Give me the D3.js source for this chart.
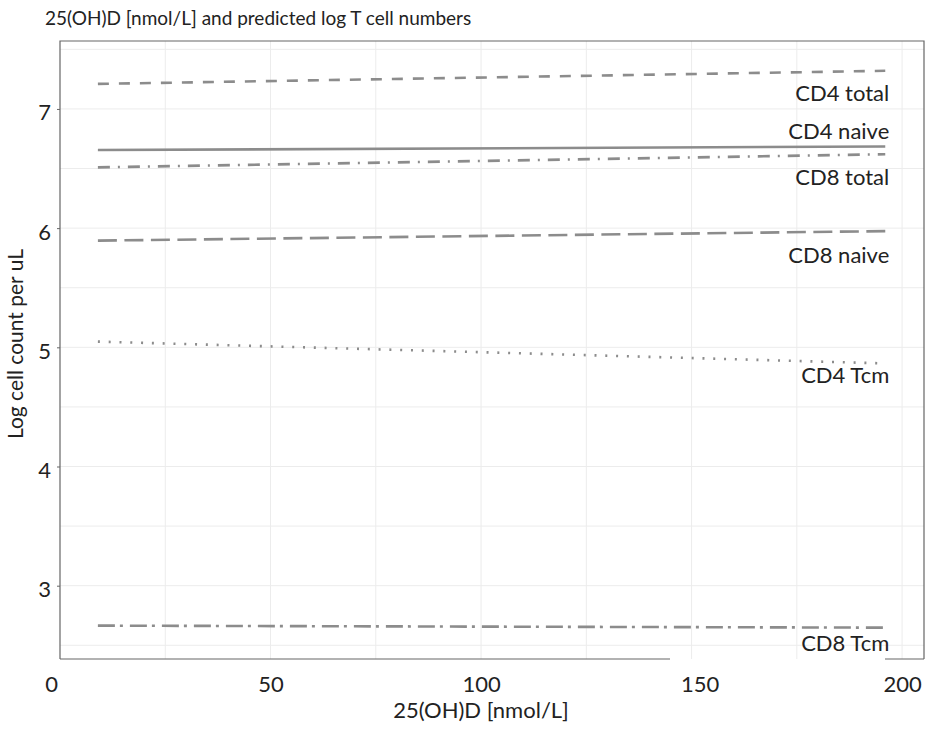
<!DOCTYPE html>
<html lang="en">
<head>
  <meta charset="UTF-8">
  <script src="https://d3js.org/d3.v7.min.js"></script>
  <title>25(OH)D and predicted log T cell numbers</title>
  <style>
    body {
      margin: 0;
      background: white;
      font-family: Lato, "Open Sans", sans-serif;
    }
    .grid line {
      stroke: #ececec;
      stroke-width: 1;
    }
    .series {
      fill: none;
      stroke: #8c8c8c;
      stroke-width: 2.6;
    }
    .lbl {
      font-size: 22px;
      fill: #222;
    }
  </style>
</head>
<body>
<script>
  // x values where each fitted line starts and ends
  const vitD = [9, 196];

  // predicted log cell counts at those two points
  const series = ["CD4 total", "CD4 naive", "CD8 total", "CD8 naive", "CD4 Tcm", "CD8 Tcm"];
  const startVals = [7.21, 6.655, 6.51, 5.895, 5.048, 2.665];
  const endVals = [7.32, 6.685, 6.62, 5.975, 4.865, 2.648];

  const xTicks = [0, 50, 100, 150, 200];
  const yTicks = [3, 4, 5, 6, 7];

  const width = 929;
  const height = 729;

  const svg = d3.select("body").append("svg")
    .attr("width", width)
    .attr("height", height);

  // Plot area
  const x = d3.scaleLinear().domain([0, 205.2]).range([60, 924]);
  const y = d3.scaleLinear().domain([2.385, 7.57]).range([659, 41]);

  // Grid lines (major + minor)
  const grid = svg.append("g").attr("class", "grid");
  grid.selectAll(".v")
    .data(d3.range(25, 201, 25))
    .enter().append("line")
    .attr("x1", d => x(d)).attr("x2", d => x(d))
    .attr("y1", y.range()[1]).attr("y2", y.range()[0]);
  grid.selectAll(".h")
    .data(d3.range(2.5, 7.51, 0.5))
    .enter().append("line")
    .attr("x1", x.range()[0]).attr("x2", x.range()[1])
    .attr("y1", d => y(d)).attr("y2", d => y(d));

  // Frame (bottom edge is broken in the original)
  const frame = svg.append("g")
    .attr("stroke", "#666")
    .attr("stroke-width", 1.2)
    .attr("fill", "none");
  frame.append("path")
    .attr("d", `M${x.range()[0]},${y.range()[0]}V${y.range()[1]}H${x.range()[1]}V${y.range()[0]}`);
  frame.append("line")
    .attr("x1", x.range()[0]).attr("x2", 670)
    .attr("y1", y.range()[0]).attr("y2", y.range()[0]);
  frame.append("line")
    .attr("x1", 885).attr("x2", x.range()[1])
    .attr("y1", y.range()[0]).attr("y2", y.range()[0]);

  // Y axis
  const yAxis = svg.append("g")
    .attr("transform", `translate(${x.range()[0]},0)`)
    .call(d3.axisLeft(y).tickValues(yTicks).tickSize(3).tickPadding(6).tickFormat(d3.format("d")));
  yAxis.select(".domain").remove();
  yAxis.selectAll(".tick line").attr("stroke", "#666");
  yAxis.selectAll("text")
    .attr("font-family", "Lato, sans-serif")
    .attr("font-size", 22)
    .attr("fill", "#222")
    .attr("dy", "0.5em");

  // X axis labels
  const xAxis = svg.append("g")
    .attr("transform", `translate(0,${y.range()[0]})`)
    .call(d3.axisBottom(x).tickValues(xTicks).tickSize(0).tickPadding(17).tickFormat(d3.format("d")));
  xAxis.select(".domain").remove();
  xAxis.selectAll("text")
    .attr("font-family", "Lato, sans-serif")
    .attr("font-size", 22)
    .attr("fill", "#222")
    .attr("dx", d => d === 0 ? -9 : d === 150 ? 8 : 0);

  // Lines
  const dashes = ["11,10", null, "12,8,2,8", "19,7.5", "2,8.8", "17,5,3,7"];
  const labelDy = [30, -7, 31, 32, 20, 23];

  const line = d3.line().x(d => x(d[0])).y(d => y(d[1]));

  series.forEach((name, i) => {
    const pts = [[vitD[0], startVals[i]], [vitD[1], endVals[i]]];
    svg.append("path")
      .attr("class", "series")
      .attr("d", line(pts))
      .attr("stroke-dasharray", dashes[i])
      .attr("stroke", i === 1 ? "#808080" : "#8c8c8c");

    svg.append("text")
      .attr("class", "lbl")
      .attr("x", x(vitD[1]) + 4)
      .attr("y", y(endVals[i]) + labelDy[i])
      .attr("text-anchor", "end")
      .text(name);
  });

  // Titles
  svg.append("text")
    .attr("x", 45).attr("y", 25)
    .attr("font-size", 19)
    .attr("fill", "#222")
    .text("25(OH)D [nmol/L] and predicted log T cell numbers");

  svg.append("text")
    .attr("x", 481)
    .attr("y", 718)
    .attr("text-anchor", "middle")
    .attr("font-size", 22)
    .attr("fill", "#222")
    .text("25(OH)D [nmol/L]");

  svg.append("text")
    .attr("transform", "translate(23,344) rotate(-90)")
    .attr("text-anchor", "middle")
    .attr("font-size", 21)
    .attr("fill", "#222")
    .text("Log cell count per uL");
</script>
</body>
</html>
